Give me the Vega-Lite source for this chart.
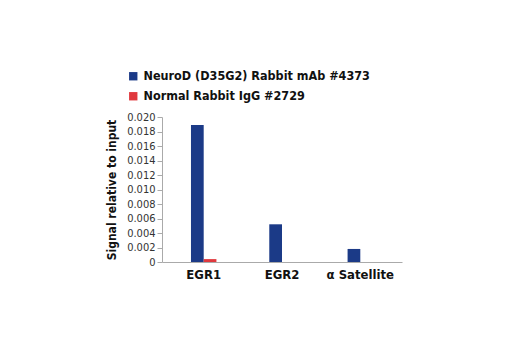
{
  "$schema": "https://vega.github.io/schema/vega-lite/v6.json",
  "width": 240,
  "height": 145,
  "autosize": "none",
  "padding": {"left": 162, "top": 117, "right": 118, "bottom": 88},
  "background": "white",
  "data": {
    "values": [
      {"target": "EGR1", "antibody": "NeuroD (D35G2) Rabbit mAb #4373", "signal": 0.0189},
      {"target": "EGR1", "antibody": "Normal Rabbit IgG #2729", "signal": 0.0004},
      {"target": "EGR2", "antibody": "NeuroD (D35G2) Rabbit mAb #4373", "signal": 0.0052},
      {"target": "EGR2", "antibody": "Normal Rabbit IgG #2729", "signal": 0.0},
      {"target": "α Satellite", "antibody": "NeuroD (D35G2) Rabbit mAb #4373", "signal": 0.0018},
      {"target": "α Satellite", "antibody": "Normal Rabbit IgG #2729", "signal": 0.0}
    ]
  },
  "mark": {"type": "bar"},
  "encoding": {
    "x": {
      "field": "target",
      "type": "nominal",
      "sort": null,
      "scale": {"paddingInner": 0.675, "paddingOuter": 0.37},
      "axis": {
        "title": null,
        "labelAngle": 0,
        "ticks": false,
        "domainColor": "#aaaaaa",
        "labelFont": "DejaVu Sans Condensed, Liberation Sans, sans-serif",
        "labelFontSize": 13,
        "labelFontWeight": "bold",
        "labelColor": "#111111",
        "labelPadding": 6
      }
    },
    "xOffset": {"field": "antibody", "type": "nominal", "sort": null},
    "y": {
      "field": "signal",
      "type": "quantitative",
      "scale": {"domain": [0, 0.02], "nice": false},
      "axis": {
        "title": "Signal relative to input",
        "titleFont": "DejaVu Sans Condensed, Liberation Sans, sans-serif",
        "titleFontSize": 12,
        "titleFontWeight": "bold",
        "titleColor": "#111111",
        "titlePadding": 8,
        "values": [0, 0.002, 0.004, 0.006, 0.008, 0.01, 0.012, 0.014, 0.016, 0.018, 0.02],
        "labelExpr": "datum.value == 0 ? '0' : format(datum.value, '.3f')",
        "labelFont": "DejaVu Sans Condensed, Liberation Sans, sans-serif",
        "labelFontSize": 11,
        "labelColor": "#333333",
        "grid": false,
        "tickColor": "#aaaaaa",
        "tickSize": 5,
        "domainColor": "#aaaaaa"
      }
    },
    "color": {
      "field": "antibody",
      "type": "nominal",
      "sort": null,
      "scale": {"range": ["#1b3a87", "#e0393e"]},
      "legend": {
        "title": null,
        "orient": "none",
        "legendX": -35,
        "legendY": -47,
        "symbolType": "square",
        "symbolSize": 70,
        "symbolOpacity": 1,
        "rowPadding": 7,
        "labelFont": "DejaVu Sans Condensed, Liberation Sans, sans-serif",
        "labelFontSize": 12.5,
        "labelFontWeight": "bold",
        "labelColor": "#111111",
        "labelLimit": 400
      }
    }
  },
  "config": {"view": {"stroke": null}}
}
